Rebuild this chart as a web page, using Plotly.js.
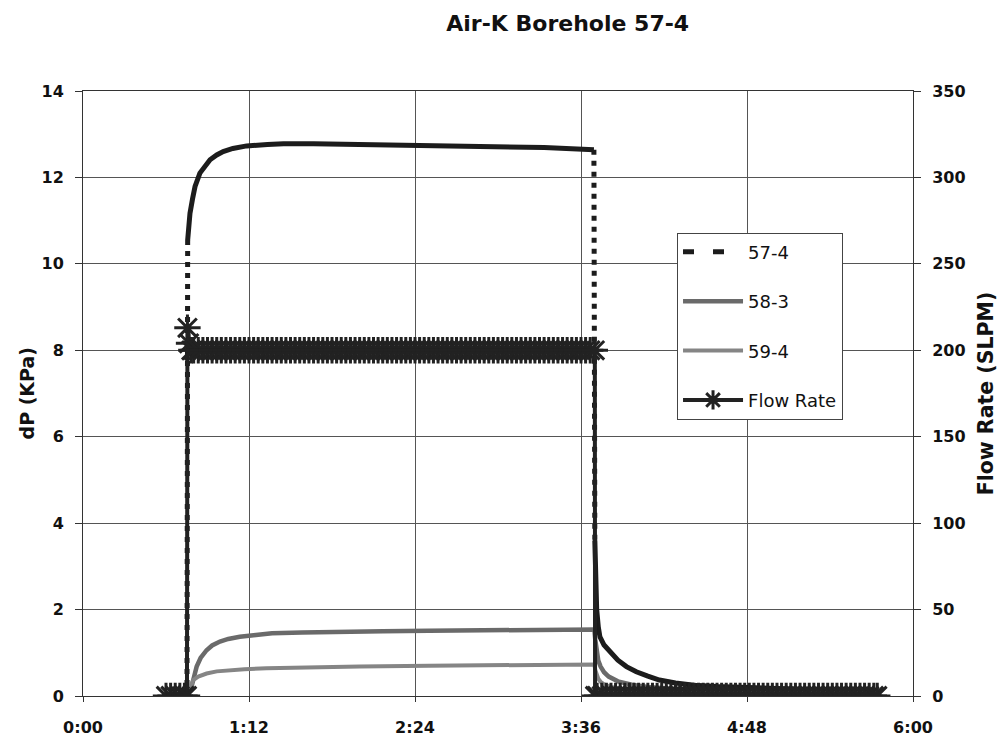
<!DOCTYPE html>
<html>
<head>
<meta charset="utf-8">
<script src="https://cdn.plot.ly/plotly-3.0.1.min.js"></script>
<style>html,body{margin:0;padding:0;background:#fff;}#chart{width:998px;height:736px;}</style>
</head>
<body>
<div id="chart"></div>
<script>
// ---- Data (time in minutes since 0:00) ----
var xTickVals = [0, 72, 144, 216, 288, 360];
var xTickText = ["0:00", "1:12", "2:24", "3:36", "4:48", "6:00"];

// Flow rate (SLPM), right axis
var flowTime = [
  36, 38, 40, 42, 44, 45.1, 45.3, 46, 47, 48,
  50, 52, 54, 56, 58, 60, 62, 64, 66, 68,
  70, 72, 74, 76, 78, 80, 82, 84, 86, 88,
  90, 92, 94, 96, 98, 100, 102, 104, 106, 108,
  110, 112, 114, 116, 118, 120, 122, 124, 126, 128,
  130, 132, 134, 136, 138, 140, 142, 144, 146, 148,
  150, 152, 154, 156, 158, 160, 162, 164, 166, 168,
  170, 172, 174, 176, 178, 180, 182, 184, 186, 188,
  190, 192, 194, 196, 198, 200, 202, 204, 206, 208,
  210, 212, 214, 216, 218, 220, 222,
  222.1, 223, 225, 227, 229, 231, 233, 235, 237, 239,
  241, 243, 245, 247, 249, 251, 253, 255, 257, 259,
  261, 263, 265, 267, 269, 271, 273, 275, 277, 279,
  281, 283, 285, 287, 289, 291, 293, 295, 297, 299,
  301, 303, 305, 307, 309, 311, 313, 315, 317, 319,
  321, 323, 325, 327, 329, 331, 333, 335, 337, 339,
  341, 343, 344.5
];
var flowRate = [
  0, 0, 0, 0, 0, 0, 213, 204, 200, 200,
  200, 200, 200, 200, 200, 200, 200, 200, 200, 200,
  200, 200, 200, 200, 200, 200, 200, 200, 200, 200,
  200, 200, 200, 200, 200, 200, 200, 200, 200, 200,
  200, 200, 200, 200, 200, 200, 200, 200, 200, 200,
  200, 200, 200, 200, 200, 200, 200, 200, 200, 200,
  200, 200, 200, 200, 200, 200, 200, 200, 200, 200,
  200, 200, 200, 200, 200, 200, 200, 200, 200, 200,
  200, 200, 200, 200, 200, 200, 200, 200, 200, 200,
  200, 200, 200, 200, 200, 200, 200,
  0, 0, 0, 0, 0, 0, 0, 0, 0, 0,
  0, 0, 0, 0, 0, 0, 0, 0, 0, 0,
  0, 0, 0, 0, 0, 0, 0, 0, 0, 0,
  0, 0, 0, 0, 0, 0, 0, 0, 0, 0,
  0, 0, 0, 0, 0, 0, 0, 0, 0, 0,
  0, 0, 0, 0, 0, 0, 0, 0, 0, 0,
  0, 0, 0
];

// dP (KPa), left axis
var time574 = [36, 45.1, 45.4, 46.4, 47.5, 48.6, 50.7, 53, 55.1, 58, 60.8, 65, 71, 80, 87, 100, 116, 140, 160, 180, 200, 221.6,
               222.0, 222.3, 222.8, 223.5, 224.2, 226, 228.5, 232, 235.7, 240, 245, 250, 257, 265, 275, 286, 300, 320, 344.5];
var dp574   = [0, 0, 10.55, 11.17, 11.5, 11.79, 12.1, 12.28, 12.41, 12.52, 12.6, 12.67, 12.73, 12.76, 12.78, 12.78, 12.77, 12.75, 12.74, 12.72, 12.69, 12.64,
               3.6, 2.6, 2.0, 1.6, 1.37, 1.18, 1.02, 0.83, 0.68, 0.56, 0.46, 0.37, 0.3, 0.25, 0.22, 0.2, 0.17, 0.14, 0.12];

var time583 = [36, 45.3, 46.3, 47.1, 48.2, 49.3, 51, 53.6, 56, 59.4, 63, 68, 75, 82, 95, 110, 130, 150, 175, 200, 221.8,
               222.2, 222.7, 223.5, 224.5, 226, 228, 232, 238, 245, 255, 270, 290, 315, 344.5];
var dp583   = [0, 0, 0.12, 0.22, 0.45, 0.68, 0.88, 1.06, 1.17, 1.26, 1.32, 1.37, 1.41, 1.45, 1.47, 1.49, 1.5, 1.51, 1.52, 1.53, 1.54,
               1.3, 1.03, 0.82, 0.68, 0.55, 0.45, 0.34, 0.26, 0.21, 0.17, 0.13, 0.1, 0.08, 0.07];

var time594 = [36, 45.3, 46.5, 47.8, 50, 53.6, 58, 63.7, 70, 79.6, 95, 120, 150, 180, 200, 221.8,
               222.2, 222.7, 223.5, 224.5, 226, 229, 234, 240, 250, 265, 290, 320, 344.5];
var dp594   = [0, 0, 0.2, 0.37, 0.45, 0.52, 0.57, 0.6, 0.62, 0.64, 0.66, 0.68, 0.7, 0.71, 0.72, 0.73,
               0.6, 0.5, 0.4, 0.33, 0.27, 0.21, 0.16, 0.13, 0.1, 0.08, 0.06, 0.05, 0.05];

// ---- split 57-4 into smooth parts (solid) and sudden jumps (dashed, as Excel shows) ----
var solidX = [], solidY = [], jumpX = [], jumpY = [];
for (var i = 0; i < time574.length; i++) {
  if (i > 0 && Math.abs(dp574[i] - dp574[i - 1]) > 3) {
    solidX.push(null); solidY.push(null);
    jumpX.push(time574[i - 1], time574[i], null);
    jumpY.push(dp574[i - 1], dp574[i], null);
  }
  solidX.push(time574[i]); solidY.push(dp574[i]);
}

var BLACK = '#1c1c1c';
var traces = [
  {x: solidX, y: solidY, type: 'scatter', mode: 'lines', line: {color: BLACK, width: 5}, showlegend: false, hoverinfo: 'skip', connectgaps: false},
  {x: jumpX, y: jumpY, type: 'scatter', mode: 'lines', line: {color: BLACK, width: 5, dash: '5px,6px'}, showlegend: false, hoverinfo: 'skip', connectgaps: false},
  {x: [null], y: [null], type: 'scatter', mode: 'lines', name: '57-4', legendgroup: 'g1', legendrank: 1,
   line: {color: BLACK, width: 5, dash: '11px,19px'}},
  {x: time583, y: dp583, type: 'scatter', mode: 'lines', name: '58-3', legendgroup: 'g2', legendrank: 2,
   line: {color: '#6a6a6a', width: 4.5}},
  {x: time594, y: dp594, type: 'scatter', mode: 'lines', name: '59-4', legendgroup: 'g3', legendrank: 3,
   line: {color: '#858585', width: 4}},
  {x: flowTime, y: flowRate, yaxis: 'y2', type: 'scatter', mode: 'lines+markers', name: 'Flow Rate', legendgroup: 'g4', legendrank: 4,
   line: {color: '#222', width: 4},
   marker: {symbol: 'asterisk-open', size: 22, color: '#222', line: {color: '#222', width: 3}}}
];

var tickFont = {family: 'DejaVu Sans', size: 16, weight: 'bold', color: '#111'};
var layout = {
  width: 998, height: 736,
  paper_bgcolor: '#fff', plot_bgcolor: '#fff',
  margin: {l: 83, r: 85, t: 91, b: 40, pad: 0},
  title: {text: 'Air-K Borehole 57-4', font: {family: 'DejaVu Sans', size: 22, weight: 'bold', color: '#111'},
          x: 0.584, xref: 'paper', xanchor: 'center', y: 0.968, yref: 'container', yanchor: 'middle'},
  xaxis: {range: [0, 360], tickvals: xTickVals, ticktext: xTickText, showgrid: true, gridcolor: '#555', gridwidth: 1,
          showline: true, mirror: true, linecolor: '#333', linewidth: 1, ticks: 'outside', ticklen: 5, tickcolor: '#333',
          tickfont: tickFont, ticklabelstandoff: 12, zeroline: false, automargin: false, fixedrange: true},
  yaxis: {range: [0, 14], dtick: 2, tick0: 0, showgrid: true, gridcolor: '#555', gridwidth: 1,
          showline: true, mirror: true, linecolor: '#333', linewidth: 1, ticks: 'outside', ticklen: 7, tickcolor: '#333',
          tickfont: tickFont, ticklabelstandoff: 8, zeroline: false, automargin: false},
  yaxis2: {range: [0, 350], dtick: 50, tick0: 0, overlaying: 'y', side: 'right', showgrid: false, showline: false,
           ticks: 'outside', ticklen: 7, tickcolor: '#333', tickfont: tickFont, ticklabelstandoff: 8, zeroline: false, automargin: false,
           title: {text: 'Flow Rate (SLPM)', font: {family: 'DejaVu Sans', size: 20.5, weight: 'bold', color: '#111'}, standoff: 14}},
  annotations: [
    {text: 'dP (KPa)', xref: 'paper', yref: 'paper', x: -0.0675, y: 0.5, xanchor: 'center', yanchor: 'middle',
     textangle: -90, showarrow: false, font: {family: 'DejaVu Sans', size: 19, weight: 'bold', color: '#111'}}
  ],
  legend: {x: 0.7157, y: 0.766, xanchor: 'left', yanchor: 'top', bgcolor: '#fff', bordercolor: '#444', borderwidth: 1,
           font: {family: 'DejaVu Sans', size: 18, color: '#111'}, traceorder: 'grouped', tracegroupgap: 23, itemwidth: 60},
  showlegend: true
};

Plotly.newPlot('chart', traces, layout, {staticPlot: true, displayModeBar: false});
</script>
</body>
</html>
